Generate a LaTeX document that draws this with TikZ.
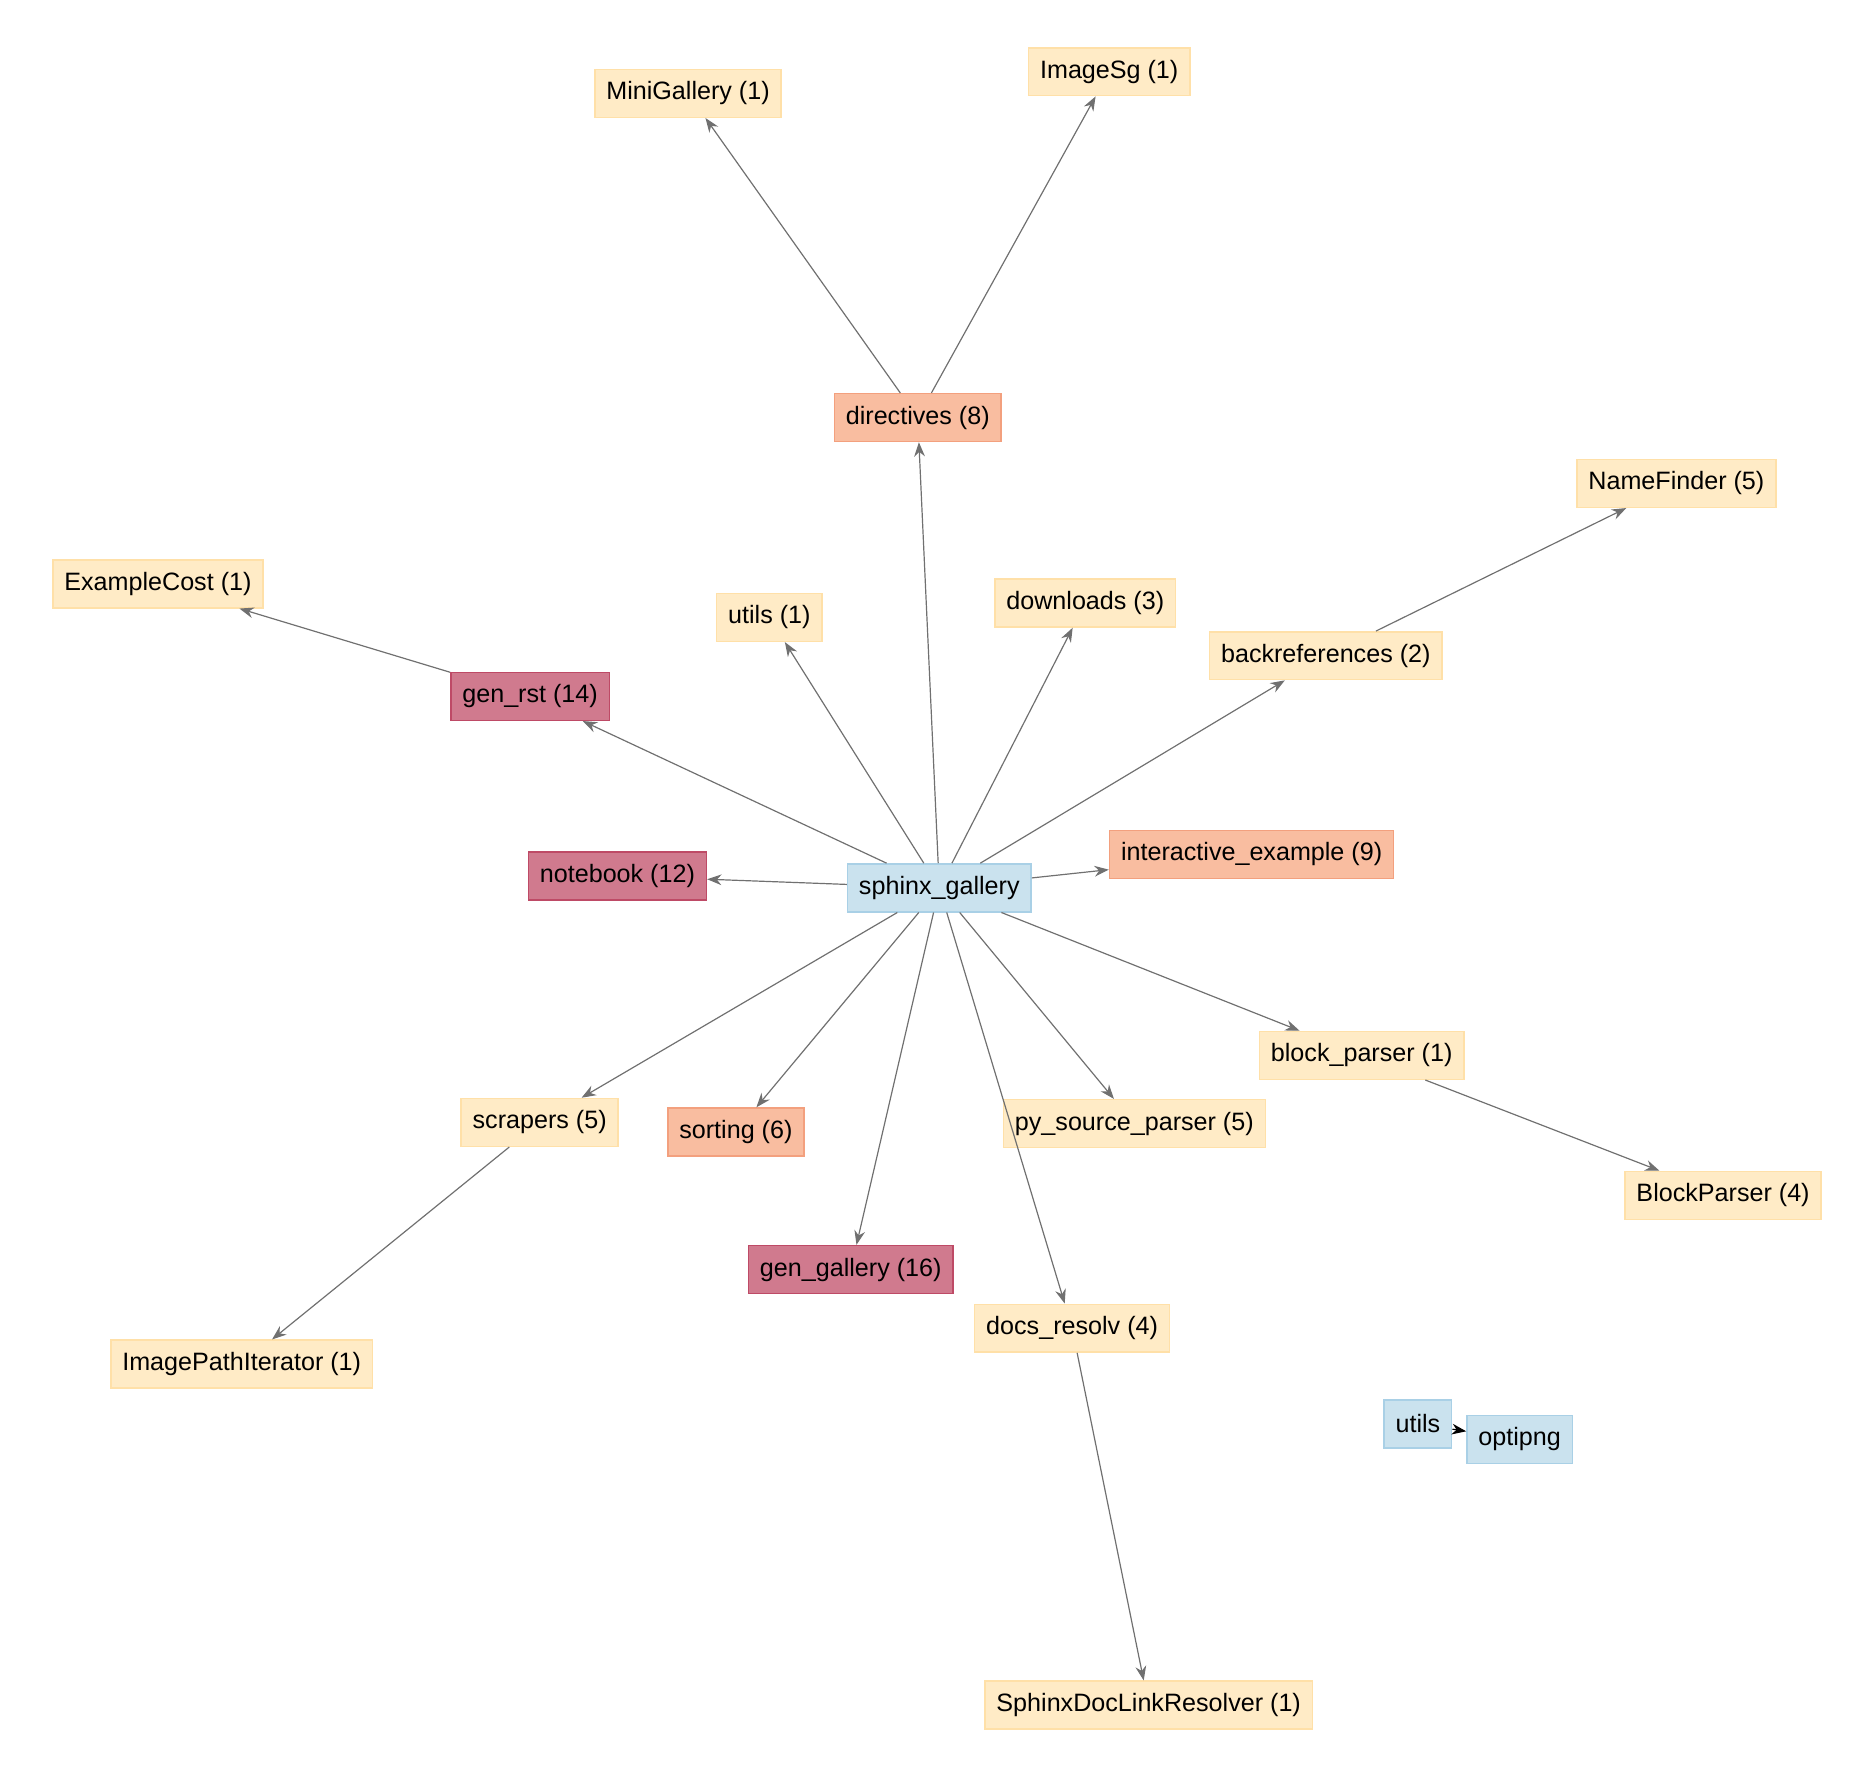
\documentclass[tikz,border=0pt]{standalone}
\usepackage{fontspec}
\setmainfont{Liberation Sans}
\usetikzlibrary{arrows.meta}
\definecolor{yfill}{HTML}{FFEBC6}\definecolor{ydraw}{HTML}{FFE0A8}
\definecolor{sfill}{HTML}{F9BDA0}\definecolor{sdraw}{HTML}{F3A07E}
\definecolor{rfill}{HTML}{D07A8E}\definecolor{rdraw}{HTML}{BE4A66}
\definecolor{bfill}{HTML}{CAE2EE}\definecolor{bdraw}{HTML}{A9D0E6}
\definecolor{edge}{HTML}{707070}
\begin{document}
\begin{tikzpicture}[x=0.5pt,y=-0.5pt,
 box/.style={rectangle,inner xsep=4.8pt,minimum height=20pt,font=\fontsize{10.5pt}{12pt}\selectfont,line width=0.6pt},
 yb/.style={box,fill=yfill,draw=ydraw},
 sb/.style={box,fill=sfill,draw=sdraw},
 rb/.style={box,fill=rfill,draw=rdraw},
 bb/.style={box,fill=bfill,draw=bdraw},
 e/.style={draw=edge,line width=0.5pt,-{Stealth[length=6pt,width=4.5pt]}}]
\useasboundingbox (0,0) rectangle (1567,1487);
\node[yb] (mg) at (575,78) {MiniGallery (1)};
\node[yb] (isg) at (927,60) {ImageSg (1)};
\node[sb] (dir) at (767,349) {directives (8)};
\node[yb] (nf) at (1401,404) {NameFinder (5)};
\node[yb] (ec) at (132,488) {ExampleCost (1)};
\node[yb] (ut) at (643,516) {utils (1)};
\node[yb] (dl) at (907,504) {downloads (3)};
\node[yb] (br) at (1108,548) {backreferences (2)};
\node[rb] (gr) at (443,582) {gen\_rst (14)};
\node[rb] (nb) at (516,732) {notebook (12)};
\node[bb] (sg) at (785,742) {sphinx\_gallery};
\node[sb] (ie) at (1046,714) {interactive\_example (9)};
\node[yb] (bp) at (1138,882) {block\_parser (1)};
\node[yb] (sc) at (451,938) {scrapers (5)};
\node[sb] (so) at (615,946) {sorting (6)};
\node[yb] (ps) at (948,939) {py\_source\_parser (5)};
\node[yb] (BP) at (1440,999) {BlockParser (4)};
\node[rb] (gg) at (711,1061) {gen\_gallery (16)};
\node[yb] (dr) at (896,1110) {docs\_resolv (4)};
\node[yb] (ipi) at (202,1140) {ImagePathIterator (1)};
\node[bb] (u2) at (1185,1190) {utils};
\node[bb] (op) at (1270,1203) {optipng};
\node[yb] (sdl) at (960,1425) {SphinxDocLinkResolver (1)};
\foreach \t in {dir,ut,dl,br,gr,nb,ie,bp,sc,so,ps,gg,dr} \draw[e] (sg) -- (\t);
\draw[e] (dir) -- (mg); \draw[e] (dir) -- (isg);
\draw[e] (br) -- (nf); \draw[e] (gr) -- (ec);
\draw[e] (bp) -- (BP); \draw[e] (sc) -- (ipi);
\draw[e] (dr) -- (sdl);
\draw[line width=0.5pt,-{Stealth[length=6pt,width=4.5pt]}] (u2) -- (op);
\end{tikzpicture}
\end{document}
